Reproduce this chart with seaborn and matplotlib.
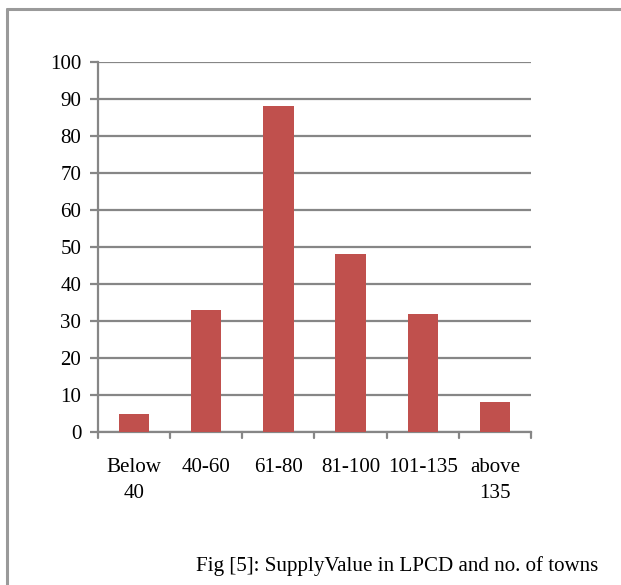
import matplotlib
matplotlib.use("Agg")
import matplotlib.pyplot as plt
import seaborn as sns
import pandas as pd
from matplotlib.lines import Line2D

categories = ["Below\n40", "40-60", "61-80", "81-100", "101-135", "above\n135"]
towns = [5, 33, 88, 48, 32, 8]
y_ticks = [0, 10, 20, 30, 40, 50, 60, 70, 80, 90, 100]
caption = "Fig [5]: SupplyValue in LPCD and no. of towns"

sns.set_theme(style="white")
plt.rcParams["font.family"] = ["Liberation Serif", "DejaVu Serif"]

df = pd.DataFrame({"range": categories, "towns": towns})

W, H = 621, 585
fig = plt.figure(figsize=(W / 100, H / 100), dpi=100)
ax = fig.add_axes([98 / W, 1 - 432 / H, (531 - 98) / W, (432 - 62) / H])

grid_color = "#868686"
fs = 15.1
sns.barplot(data=df, x="range", y="towns", color="#C0504D", saturation=1,
            width=0.42, linewidth=0, ax=ax, zorder=3)

ax.set_ylim(0, 100)
ax.set_xlim(-0.5, len(categories) - 0.5)
ax.set_yticks(y_ticks)
ax.set_yticklabels([str(v) for v in y_ticks], fontsize=fs, color="black")
ax.yaxis.grid(True, color=grid_color, linewidth=1.6, zorder=0)
ax.xaxis.grid(False)

for side in ["top", "right"]:
    ax.spines[side].set_visible(False)
for side in ["left", "bottom"]:
    ax.spines[side].set_color(grid_color)
    ax.spines[side].set_linewidth(1.6)

ax.tick_params(axis="y", length=6, width=1.6, color=grid_color, pad=6, left=True)
# x ticks sit on the category boundaries
ax.set_xticks(range(len(categories)))
ax.set_xticklabels(categories, fontsize=fs, color="black", linespacing=1.5)
ax.tick_params(axis="x", length=0, pad=19, bottom=True)
for b in [i - 0.5 for i in range(len(categories) + 1)]:
    ax.add_line(Line2D([b, b], [0, -1.5], color=grid_color, linewidth=1.6,
                       clip_on=False, transform=ax.transData))
ax.set_xlabel("")
ax.set_ylabel("")

# outer frame along the left and top
fig.add_artist(Line2D([7 / W, 7 / W], [0, 1 - 9 / H], color="#9a9a9a", linewidth=2.2))
fig.add_artist(Line2D([7 / W, 1], [1 - 9 / H, 1 - 9 / H], color="#9a9a9a", linewidth=2.2))

fig.text(397 / W, 1 - 566 / H, caption, ha="center", va="center", fontsize=fs,
         color="black")

fig.savefig("out.png", dpi=100)
